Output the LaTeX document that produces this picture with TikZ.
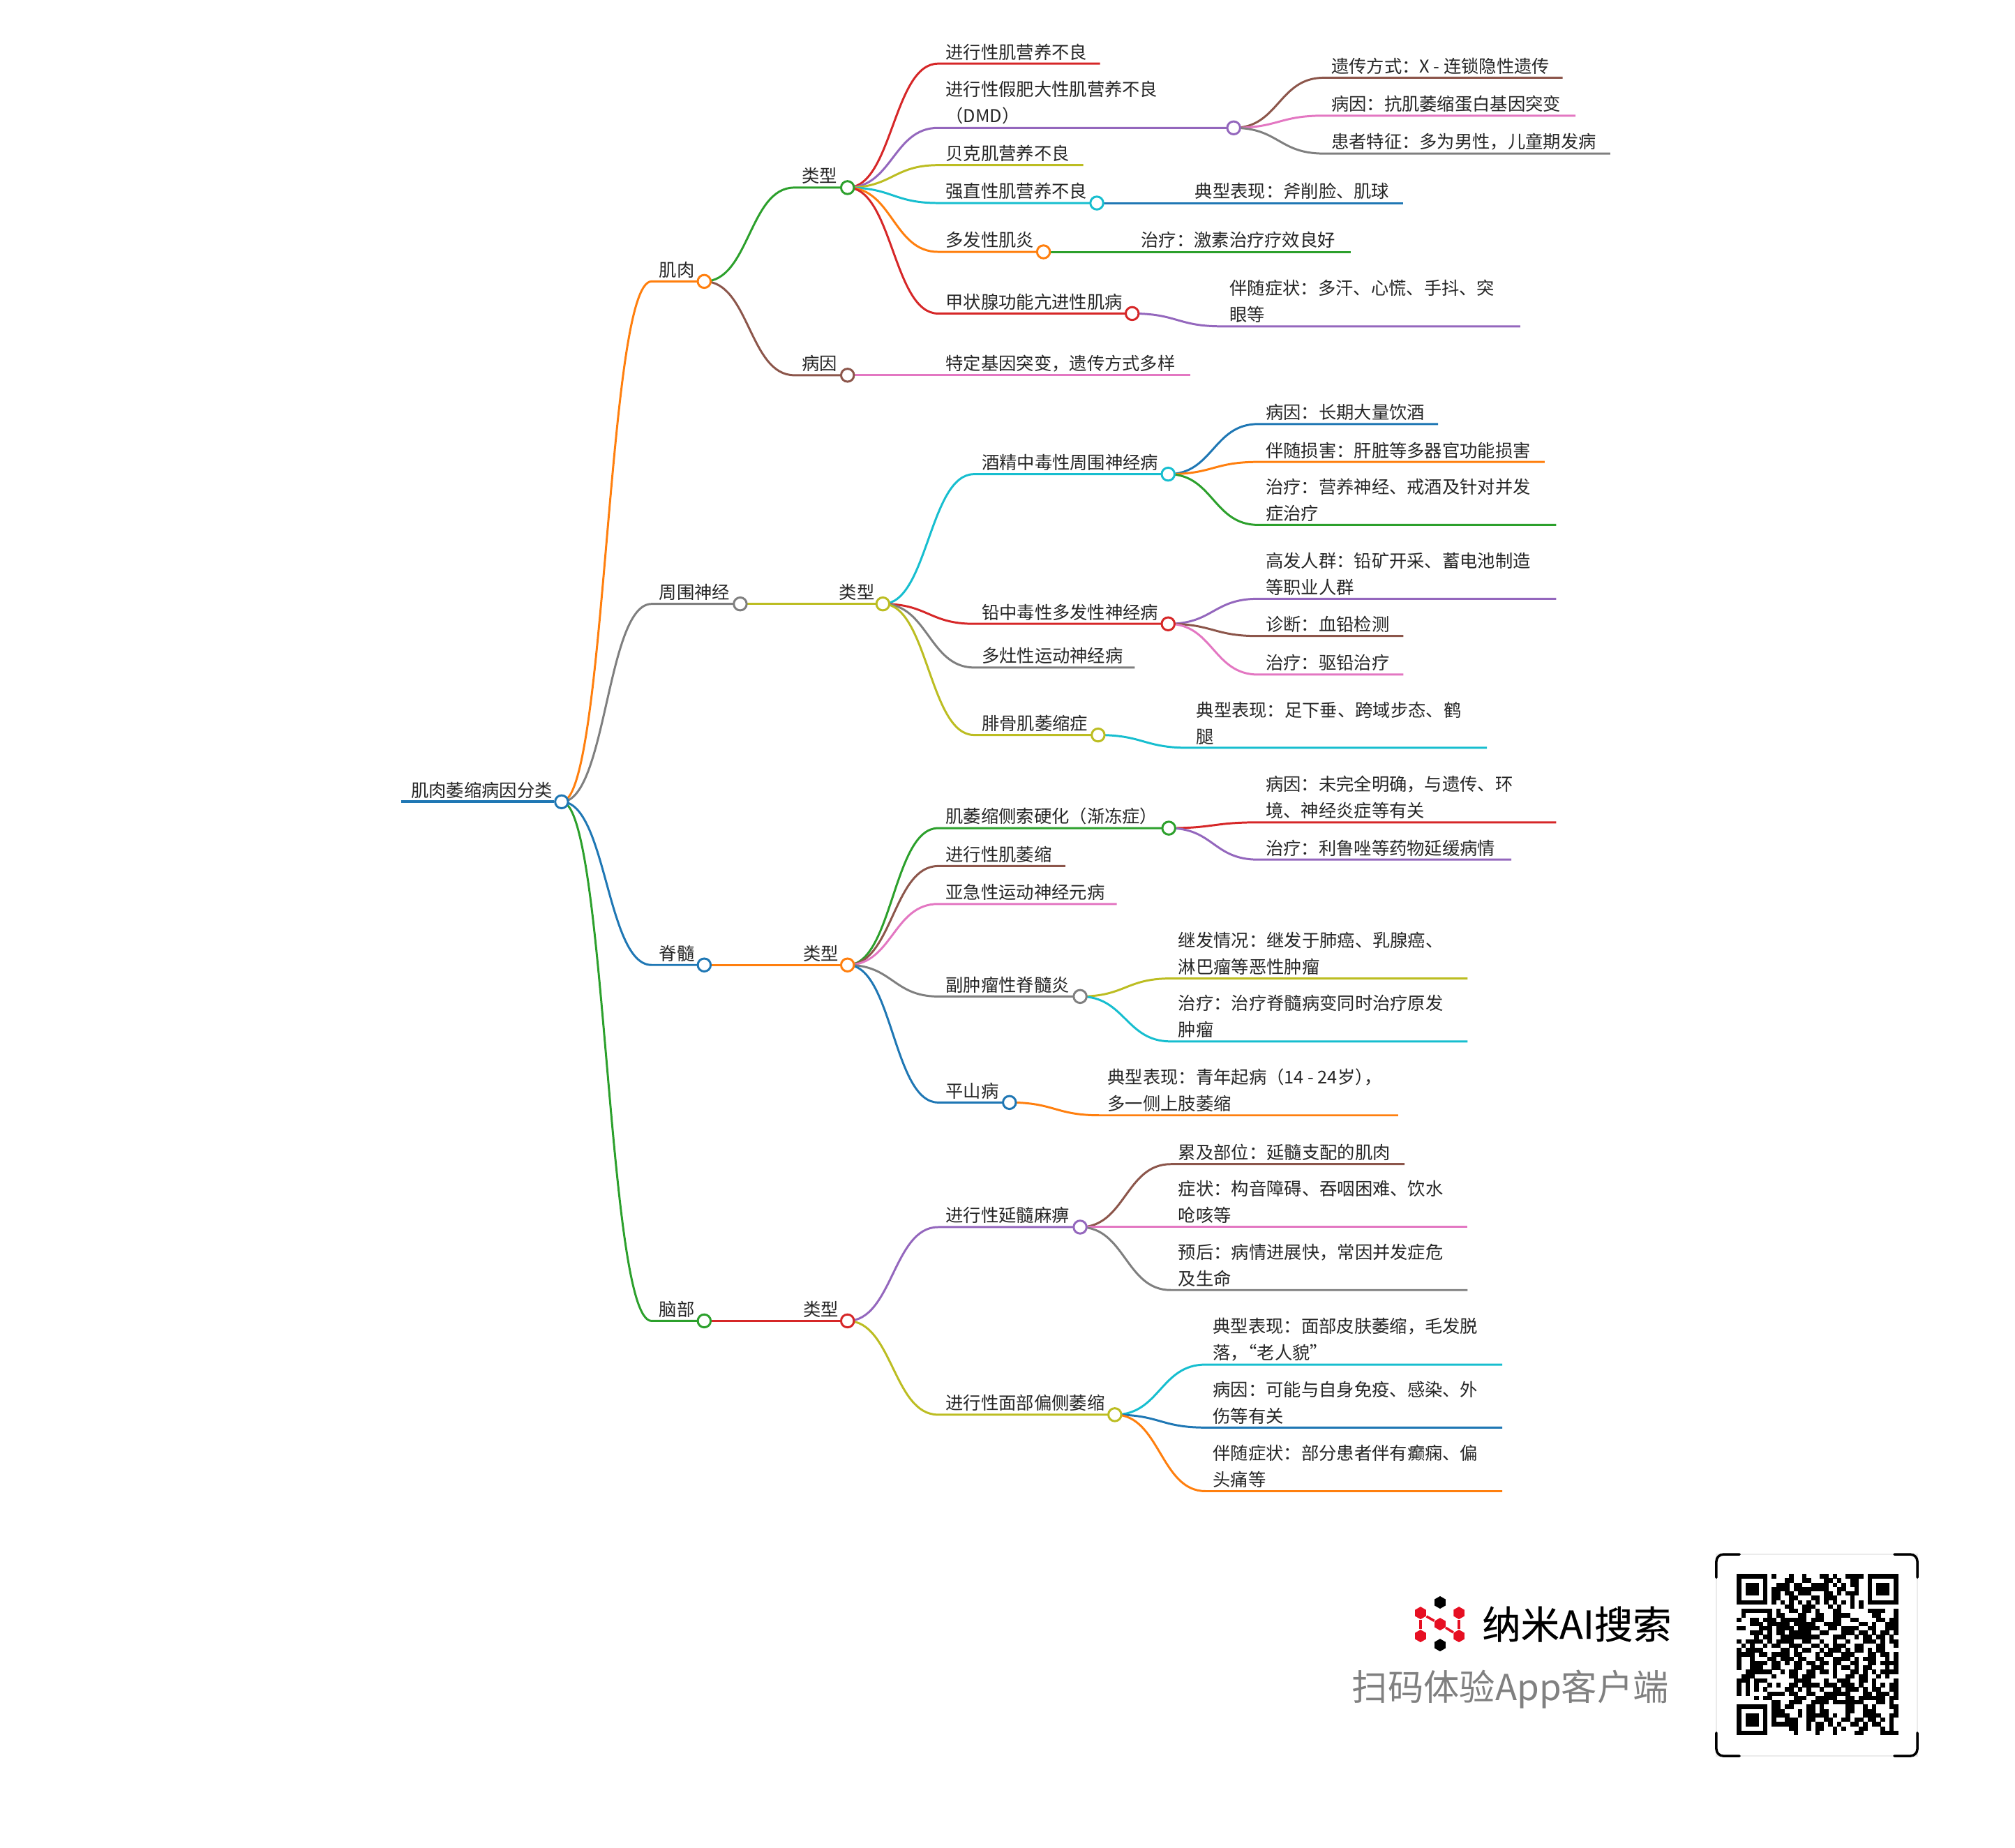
\documentclass[tikz,border=0pt]{standalone}
\usepackage{fontspec}
\setmainfont{Noto Sans CJK SC}
\newfontfamily\brandfont[FakeBold=0.35]{Noto Sans CJK SC}
\usetikzlibrary{shapes.geometric,backgrounds}

\definecolor{mblue}{HTML}{1F77B4}
\definecolor{morange}{HTML}{FF7F0E}
\definecolor{mgreen}{HTML}{2CA02C}
\definecolor{mred}{HTML}{D62728}
\definecolor{mpurple}{HTML}{9467BD}
\definecolor{mbrown}{HTML}{8C564B}
\definecolor{mpink}{HTML}{E377C2}
\definecolor{mgray}{HTML}{7F7F7F}
\definecolor{molive}{HTML}{BCBD22}
\definecolor{mcyan}{HTML}{17BECF}
\definecolor{logored}{HTML}{E60F22}

\tikzset{
	x=0.018418cm,y=-0.018418cm,
	link/.style={line width=0.85pt},
	dot/.style={circle,fill=white,line width=0.85pt,inner sep=0,minimum size=0.185cm},
	txt/.style={anchor=south west,inner sep=0,align=left,text=black!85,font=\fontsize{7.2}{10.8}\selectfont},
	hexdot/.style={regular polygon,regular polygon sides=6,shape border rotate=30,inner sep=0,minimum size=0.18cm,fill=#1},
	logoline/.style={logored,line width=1pt},
	bracket/.style={line width=1pt,rounded corners=0.1cm,line cap=round}
}

% branch with a dot: parent, name, colour, bend x, y, dot x, text
\newcommand{\hub}[7]{
	\node[dot,draw=#3] (#2) at (#6,#5) {};
	\coordinate (#2-k) at (#4,#5);
	\begin{pgfonlayer}{background}
		\draw[link,#3] (#1.center) .. controls +(35,0) and +(-35,0) .. (#2-k) -- (#2.center);
	\end{pgfonlayer}
	\node[txt] (#2-t) at (#4+5.6,#5-2.3) {#7};
}
% branch without a dot: parent, name, colour, bend x, y, end x, text
\newcommand{\twig}[7]{
	\coordinate (#2) at (#6,#5);
	\coordinate (#2-k) at (#4,#5);
	\begin{pgfonlayer}{background}
		\draw[link,#3] (#1.center) .. controls +(35,0) and +(-35,0) .. (#2-k) -- (#2);
	\end{pgfonlayer}
	\node[txt] (#2-t) at (#4+5.6,#5-2.3) {#7};
}
% one row of the square code
\def\qrscan#1{\ifx#1\relax\else\if#11\fill (\qrx,\qry) rectangle ++(1.03,1.03);\fi
	\pgfmathtruncatemacro\qrx{\qrx+1}\expandafter\qrscan\fi}
\newcommand{\qrrow}[2]{\def\qry{#1}\def\qrx{0}\expandafter\qrscan#2\relax}

\begin{document}
\begin{tikzpicture}
	\useasboundingbox (0,0) rectangle (1568,1437.7);

	%ROOT
	\node[dot,draw=mblue] (root) at (437,624) {};
	\coordinate (root-k) at (312,624);
	\draw[mblue,line width=1.2pt] (root-k)--(root.west);
	\node[txt] (root-t) at (319.6,621.7) {肌肉萎缩病因分类};

	%MUSCLE
	\hub{root}{mus}{morange}{507}{219}{548}{肌肉}
	\hub{mus}{mtype}{mgreen}{618}{146}{659.5}{类型}
	\twig{mtype}{m1}{mred}{730}{49.5}{856}{进行性肌营养不良}
	\hub{mtype}{m2}{mpurple}{730}{99.5}{960}{进行性假肥大性肌营养不良\\（DMD）}
	\twig{m2}{m21}{mbrown}{1030}{60.5}{1216}{遗传方式：X - 连锁隐性遗传}
	\twig{m2}{m22}{mpink}{1030}{90}{1226}{病因：抗肌萎缩蛋白基因突变}
	\twig{m2}{m23}{mgray}{1030}{119.5}{1253}{患者特征：多为男性，儿童期发病}
	\twig{mtype}{m3}{molive}{730}{128.5}{843}{贝克肌营养不良}
	\hub{mtype}{m4}{mcyan}{730}{158}{853.5}{强直性肌营养不良}
	\twig{m4}{m41}{mblue}{924}{158}{1092}{典型表现：斧削脸、肌球}
	\hub{mtype}{m5}{morange}{730}{196}{812}{多发性肌炎}
	\twig{m5}{m51}{mgreen}{882}{196}{1051}{治疗：激素治疗疗效良好}
	\hub{mtype}{m6}{mred}{730}{244}{881}{甲状腺功能亢进性肌病}
	\twig{m6}{m61}{mpurple}{951}{254}{1183}{伴随症状：多汗、心慌、手抖、突\\眼等}
	\hub{mus}{mcause}{mbrown}{618}{292}{659.5}{病因}
	\twig{mcause}{mc1}{mpink}{730}{292}{926}{特定基因突变，遗传方式多样}

	%PERIPHERAL NERVE
	\hub{root}{ner}{mgray}{507}{470}{576}{周围神经}
	\hub{ner}{ntype}{molive}{647}{470}{687}{类型}
	\hub{ntype}{n1}{mcyan}{758}{369}{909}{酒精中毒性周围神经病}
	\twig{n1}{n11}{mblue}{979}{330}{1119}{病因：长期大量饮酒}
	\twig{n1}{n12}{morange}{979}{359.5}{1202}{伴随损害：肝脏等多器官功能损害}
	\twig{n1}{n13}{mgreen}{979}{408.5}{1211}{治疗：营养神经、戒酒及针对并发\\症治疗}
	\hub{ntype}{n2}{mred}{758}{485.5}{909}{铅中毒性多发性神经病}
	\twig{n2}{n21}{mpurple}{979}{466}{1211}{高发人群：铅矿开采、蓄电池制造\\等职业人群}
	\twig{n2}{n22}{mbrown}{979}{495}{1092}{诊断：血铅检测}
	\twig{n2}{n23}{mpink}{979}{525}{1092}{治疗：驱铅治疗}
	\twig{ntype}{n3}{mgray}{758}{519.5}{883}{多灶性运动神经病}
	\hub{ntype}{n4}{molive}{758}{572}{854.5}{腓骨肌萎缩症}
	\twig{n4}{n41}{mcyan}{925}{582}{1157}{典型表现：足下垂、跨域步态、鹤\\腿}

	%SPINAL CORD
	\hub{root}{spi}{mblue}{507}{751}{548}{脊髓}
	\hub{spi}{stype}{morange}{619}{751}{659.5}{类型}
	\hub{stype}{s1}{mgreen}{730}{644.5}{909.5}{肌萎缩侧索硬化（渐冻症）}
	\twig{s1}{s11}{mred}{979}{640}{1211}{病因：未完全明确，与遗传、环\\境、神经炎症等有关}
	\twig{s1}{s12}{mpurple}{979}{669}{1176}{治疗：利鲁唑等药物延缓病情}
	\twig{stype}{s2}{mbrown}{730}{674}{829}{进行性肌萎缩}
	\twig{stype}{s3}{mpink}{730}{703.5}{869}{亚急性运动神经元病}
	\hub{stype}{s4}{mgray}{730}{775.5}{840.5}{副肿瘤性脊髓炎}
	\twig{s4}{s41}{molive}{911}{761.5}{1142}{继发情况：继发于肺癌、乳腺癌、\\淋巴瘤等恶性肿瘤}
	\twig{s4}{s42}{mcyan}{911}{810.5}{1142}{治疗：治疗脊髓病变同时治疗原发\\肿瘤}
	\hub{stype}{s5}{mblue}{730}{858}{785.5}{平山病}
	\twig{s5}{s51}{morange}{856}{868}{1088}{典型表现：青年起病（14 - 24岁）\kern-.5em，\\多一侧上肢萎缩}

	%BRAIN
	\hub{root}{bra}{mgreen}{507}{1028}{548}{脑部}
	\hub{bra}{btype}{mred}{619}{1028}{659.5}{类型}
	\hub{btype}{b1}{mpurple}{730}{955}{840.5}{进行性延髓麻痹}
	\twig{b1}{b11}{mbrown}{911}{906}{1093}{累及部位：延髓支配的肌肉}
	\twig{b1}{b12}{mpink}{911}{955}{1142}{症状：构音障碍、吞咽困难、饮水\\呛咳等}
	\twig{b1}{b13}{mgray}{911}{1004}{1142}{预后：病情进展快，常因并发症危\\及生命}
	\hub{btype}{b2}{molive}{730}{1101}{867.5}{进行性面部偏侧萎缩}
	\twig{b2}{b21}{mcyan}{938}{1062}{1169}{典型表现：面部皮肤萎缩，毛发脱\\落，\kern-.5em“老人貌”}
	\twig{b2}{b22}{mblue}{938}{1111}{1169}{病因：可能与自身免疫、感染、外\\伤等有关}
	\twig{b2}{b23}{morange}{938}{1160.5}{1169}{伴随症状：部分患者伴有癫痫、偏\\头痛等}

	%LOGO
	\node[hexdot=logored] (ltl) at (1105.4,1255.3) {};
	\node[hexdot=logored] (ltr) at (1135.3,1255.3) {};
	\node[hexdot=logored] (lbl) at (1105.4,1273.2) {};
	\node[hexdot=logored] (lbr) at (1135.3,1273.2) {};
	\node[hexdot=logored] (lmid) at (1120.6,1264) {};
	\node[hexdot=black] (ltop) at (1120.6,1247.1) {};
	\node[hexdot=black] (lbot) at (1120.6,1280.3) {};
	\draw[logoline] (ltl)--(lbl);
	\draw[logoline] (ltr)--(lbr);
	\draw[logoline] (ltl)--(lmid)--(lbr);
	\node[anchor=west,inner sep=0,font=\brandfont\fontsize{15.75}{18}\selectfont] (brand) at (1153,1264) {纳米AI搜索};
	\node[anchor=east,inner sep=0,text=black!50,font=\fontsize{14.6}{18}\selectfont] (scan) at (1299,1315) {扫码体验App客户端};

	%CODE
	\draw[black!8,line width=0.4pt] (1335.6,1209.7) rectangle (1492,1366.6);
	\foreach \cx/\cy/\dx/\dy in {1335.6/1209.7/1/1,1492/1209.7/-1/1,1335.6/1366.6/1/-1,1492/1366.6/-1/-1}
		\draw[bracket] (\cx,\cy+18*\dy) -- (\cx,\cy) -- (\cx+18*\dx,\cy);
	\begin{scope}[shift={(1351.6,1224.9)},x=0.0624cm,y=-0.0624cm]
		\foreach \s [count=\r from 0] in {
			1111111010001001000110100111101111111,
			1000001000011001100011010011001000001,
			1011101001110110011110101011001011101,
			1011101011110111111110011001001011101,
			1011101011011011100011010111001011101,
			1000001011001100011011100010001000001,
			1111111010101010101010101010101111111,
			0000000000011001110001010010100000000,
			0111111101001101101000110000001111001,
			0100000101100011001100111100000110001,
			1001101110111111011100110011000011011,
			0001110111110111110011110000110100111,
			1100011101111011111001101111001100111,
			0001110101101111100110001110110101101,
			0000101100111111111000111001011011010,
			1011110101111001100100100100011101011,
			0101001011001110011010111001100011001,
			1011110000110101100101110101101011000,
			1111011011110110001011001110001101101,
			1001000110111011001100111101011100101,
			1001111011010110110110110011001101111,
			1001110011000110011100101101011000101,
			0011111100101100110110100011010101111,
			0111000010001101110000100110110010100,
			1110111000000111100010011100110100001,
			1010100101001101111011101110100101011,
			1010101000011010100100110111010110011,
			1010000111101100110011111100011011101,
			0000101100000111001111100110111111011,
			0000000011001110011110111111100011010,
			1111111011011000110100000110010100011,
			1000001011100010110110000110011100001,
			1011101011110010111110100100011110011,
			1011101010011100110011001101101101010,
			1011101011111100101101010011010110010,
			1000001000001100101100101000110001010,
			1111111000000100001000100001100001111}
			\qrrow{\r}{\s};
	\end{scope}
\end{tikzpicture}
\end{document}
